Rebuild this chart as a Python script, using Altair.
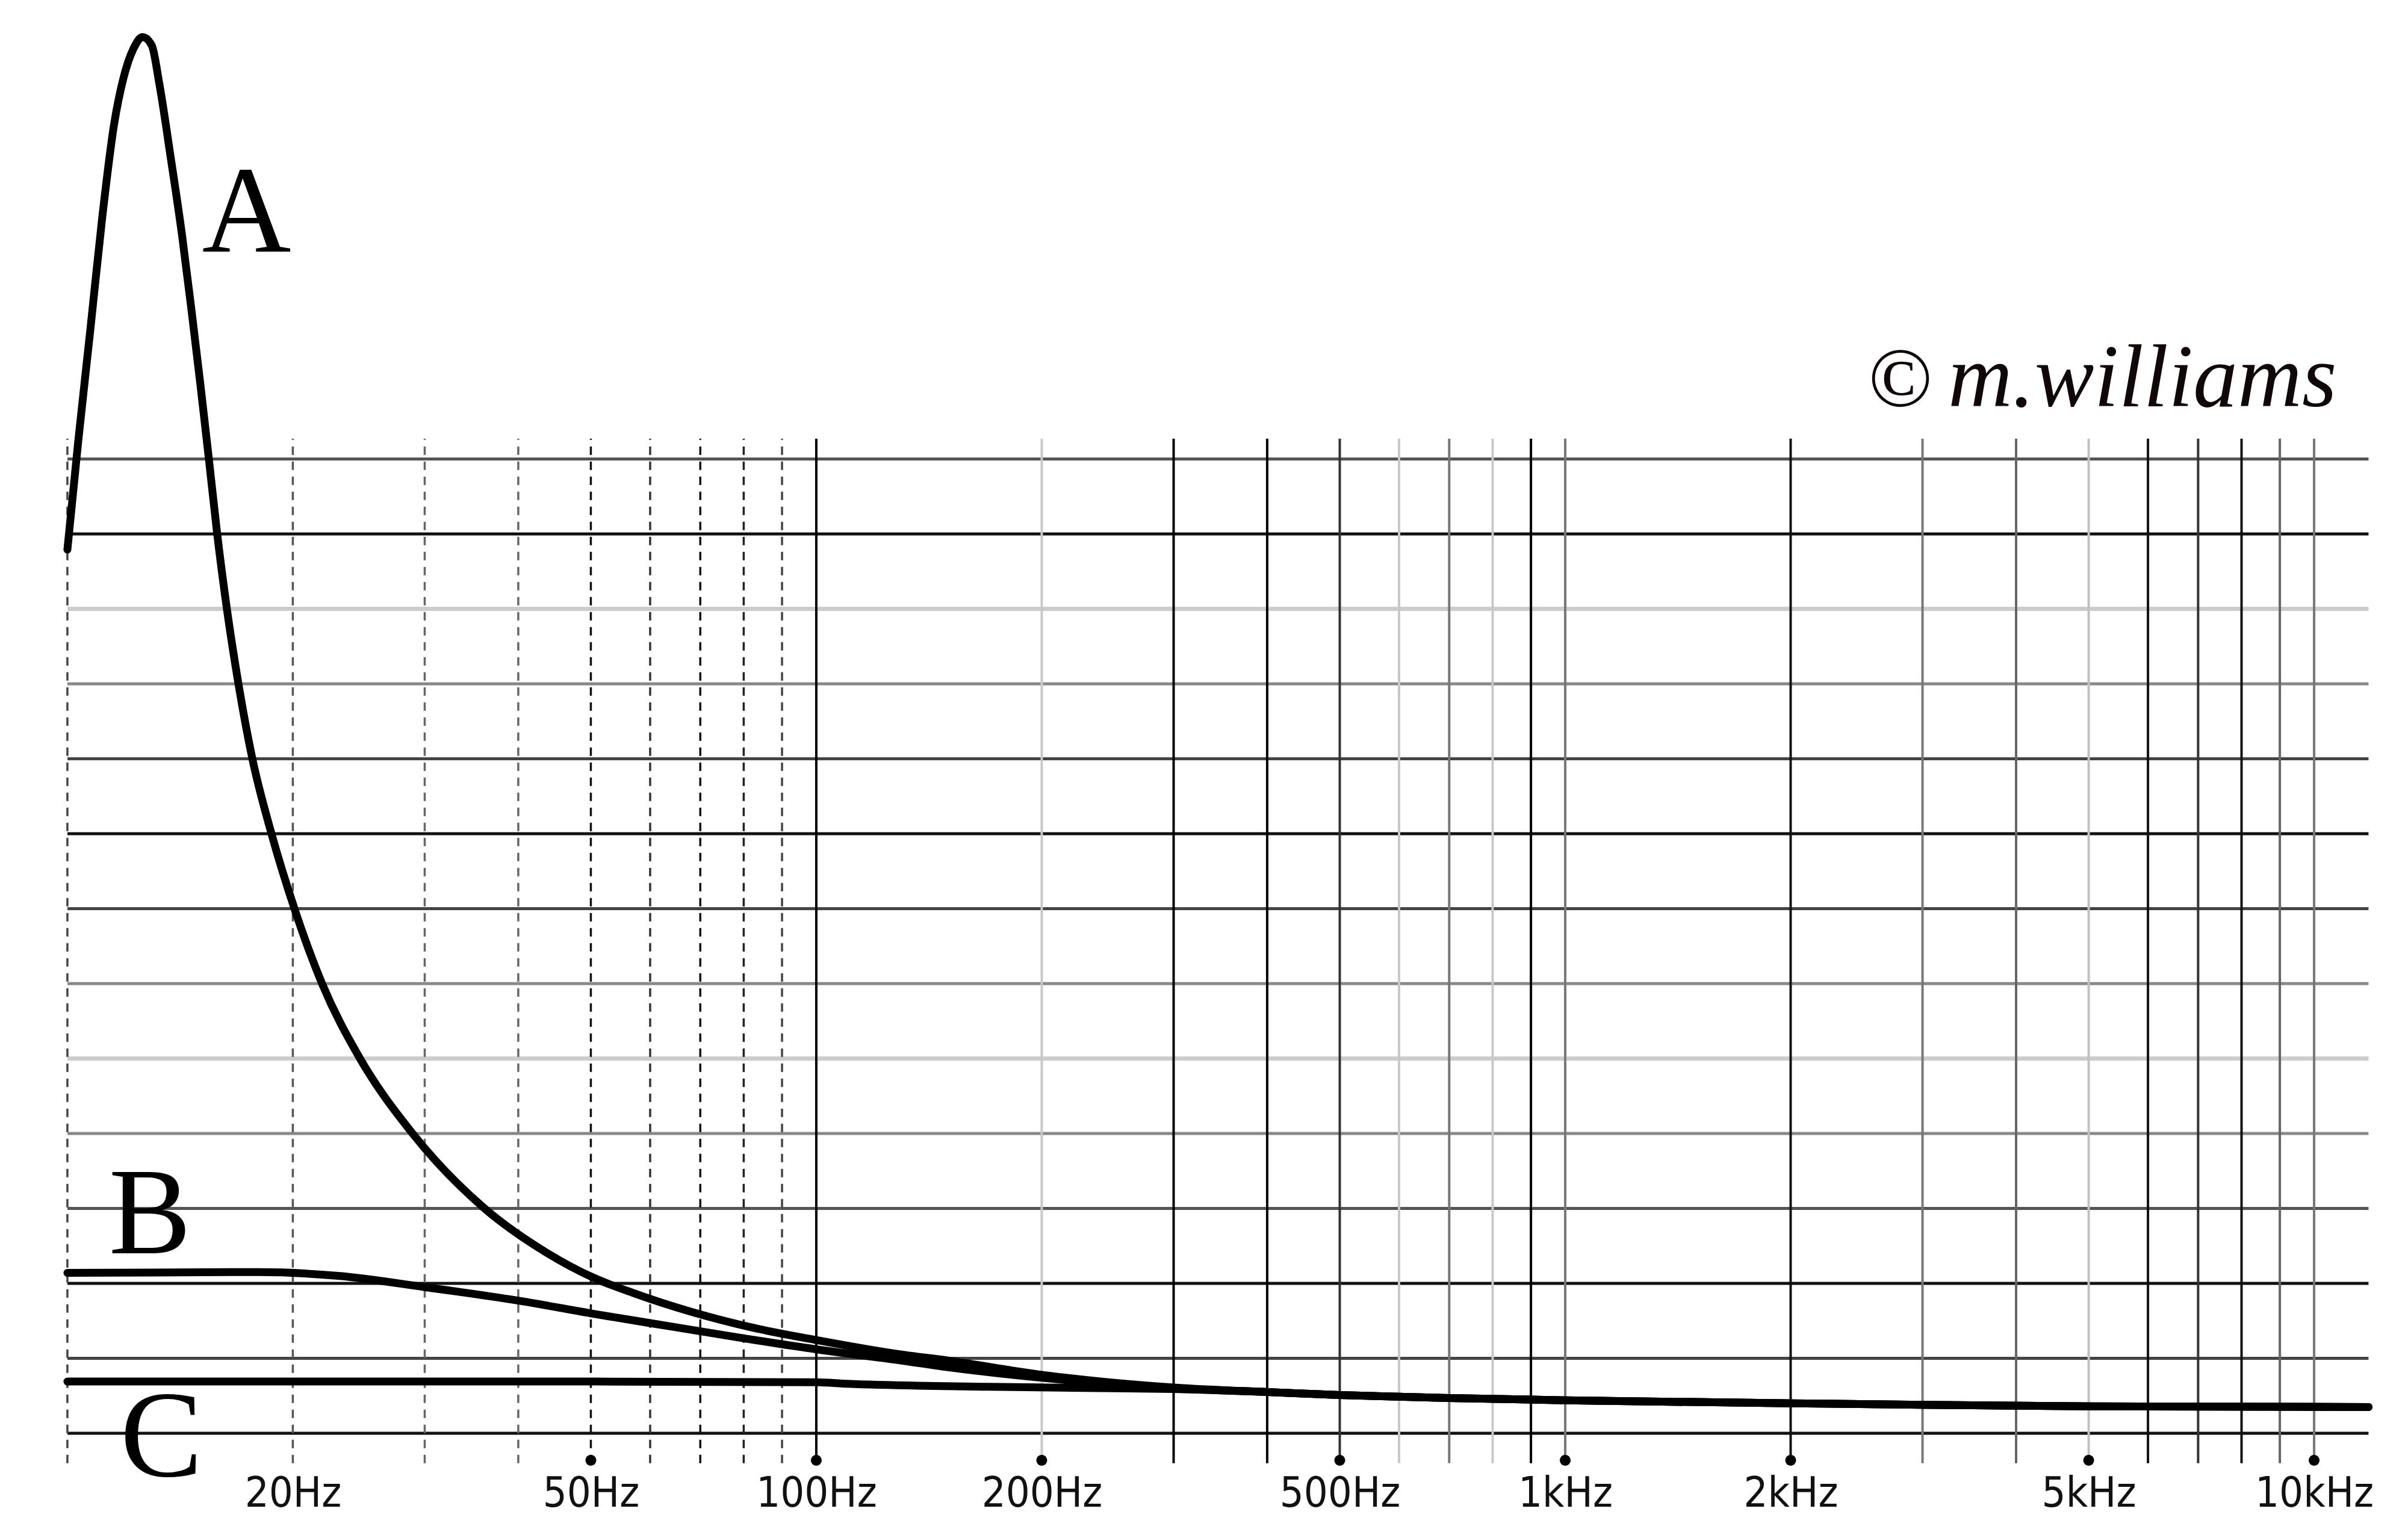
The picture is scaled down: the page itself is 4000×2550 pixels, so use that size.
import altair as alt
import pandas as pd

# ---------------- data ----------------
# x-axis frequency labels
tick_freqs = [20, 50, 100, 200, 500, 1000, 2000, 5000, 10000]
tick_labels = ["20Hz", "50Hz", "100Hz", "200Hz", "500Hz", "1kHz", "2kHz", "5kHz", "10kHz"]
dot_freqs = [50, 100, 200, 500, 1000, 2000, 5000, 10000]

# vertical grid lines
dashed_freqs = [10, 20, 30, 40, 50, 60, 70, 80, 90]
dashed_colors = ["#444444", "#555555", "#666666", "#666666", "#111111", "#333333", "#111111", "#222222", "#444444"]
solid_freqs = [100, 200, 300, 400, 500, 600, 700, 800, 900, 1000,
               2000, 3000, 4000, 5000, 6000, 7000, 8000, 9000, 10000]
solid_colors = ["#000000", "#c8c8c8", "#000000", "#000000", "#333333", "#c8c8c8", "#777777", "#c8c8c8", "#000000", "#777777",
                "#111111", "#777777", "#666666", "#c0c0c0", "#111111", "#333333", "#111111", "#666666", "#777777"]

# horizontal grid lines (level units, bottom line = 0)
h_levels = [0, 1, 2, 3, 4, 5, 6, 7, 8, 9, 10, 11, 12, 13]
h_colors = ["#111111", "#444444", "#111111", "#555555", "#888888", "#cccccc", "#888888",
            "#444444", "#111111", "#444444", "#888888", "#cccccc", "#111111", "#555555"]

grid_left, grid_right = 10, 11820
grid_bottom, grid_top = -0.4, 13.27
dot_level = -0.36

# curves
a_freq = [10.0, 10.34, 10.73, 11.13, 11.55, 11.88, 12.26, 12.60, 12.96,
          13.27, 13.75, 14.22, 14.64, 15.05, 15.45, 15.85, 16.33, 16.92, 17.66, 18.73,
          20.10, 21.88, 24.59, 28.9, 36.06, 43.8, 50.3,
          57.0, 68.1, 81.3, 100.5, 130, 150, 200, 300, 400, 500, 700, 1000, 2000, 3000, 5000, 11820]
a_level = [11.79, 13.24, 14.72, 16.22, 17.48, 18.08, 18.48, 18.63, 18.52,
           18.0, 17.0, 16.0, 15.0, 14.0, 13.0, 12.0, 11.0, 10.0, 9.0, 8.0,
           7.0, 6.0, 5.0, 4.0, 3.0, 2.40, 2.08,
           1.87, 1.62, 1.42, 1.24, 1.05, 0.97, 0.78, 0.61, 0.55, 0.51, 0.47, 0.44, 0.40, 0.38, 0.36, 0.35]

b_freq = [10, 18, 23, 30, 40, 50, 60, 78.5, 100, 130, 150, 200, 300, 400, 500, 700, 1000, 2000, 3000, 5000, 11820]
b_level = [2.14, 2.15, 2.10, 1.95, 1.77, 1.60, 1.47, 1.28, 1.12, 0.97, 0.88, 0.74, 0.60, 0.55, 0.51, 0.47, 0.44, 0.40, 0.38, 0.36, 0.35]

c_freq = [10, 50, 100, 110, 170, 250, 300, 400, 500, 700, 1000, 2000, 3000, 5000, 11820]
c_level = [0.69, 0.69, 0.68, 0.66, 0.62, 0.60, 0.59, 0.55, 0.51, 0.47, 0.44, 0.40, 0.38, 0.36, 0.35]

# annotations
letter_text = ["A", "B", "C"]
letter_freq = [17.35, 12.89, 13.35]
letter_level = [15.77, 2.40, -0.57]

copy_sym, copy_sym_freq, copy_sym_level = "\u00a9", 3093, 13.70
copy_name, copy_name_freq, copy_name_level = "m.williams", 3245, 13.70

# ---------------- chart ----------------
xscale = alt.Scale(type="log", domain=[8.25, 13150], nice=False)
yscale = alt.Scale(domain=[-0.474, 19.06], nice=False, zero=False)

label_expr = " : ".join(f"datum.value == {f} ? '{l}'" for f, l in zip(tick_freqs, tick_labels)) + " : ''"
xaxis = alt.Axis(values=tick_freqs, labelExpr=label_expr, title=None, grid=False, domain=False,
                 ticks=False, labelPadding=62, labelBaseline="alphabetic", labelFontSize=70,
                 labelFont="Liberation Sans Narrow, DejaVu Sans Condensed, Roboto Condensed, Arial Narrow, sans-serif",
                 labelColor="#111111", labelOverlap=False, labelFlush=False, labelLimit=0)

X = alt.X("freq:Q", scale=xscale, axis=xaxis)
Y = alt.Y("level:Q", scale=yscale, axis=None)

vd = pd.DataFrame({"freq": dashed_freqs, "color": dashed_colors,
                   "level": [grid_bottom] * len(dashed_freqs), "level2": [grid_top] * len(dashed_freqs)})
vs = pd.DataFrame({"freq": solid_freqs, "color": solid_colors,
                   "level": [grid_bottom] * len(solid_freqs), "level2": [grid_top] * len(solid_freqs)})
hd = pd.DataFrame({"level": h_levels, "color": h_colors,
                   "freq": [grid_left] * len(h_levels), "freq2": [grid_right] * len(h_levels),
                   "w": [7 if c == "#cccccc" else 5 for c in h_colors]})
dots = pd.DataFrame({"freq": dot_freqs, "level": [dot_level] * len(dot_freqs)})

curves = pd.concat([
    pd.DataFrame({"freq": a_freq, "level": a_level, "series": "A"}),
    pd.DataFrame({"freq": b_freq, "level": b_level, "series": "B"}),
    pd.DataFrame({"freq": c_freq, "level": c_level, "series": "C"}),
])
letters = pd.DataFrame({"freq": letter_freq, "level": letter_level, "label": letter_text})
csym = pd.DataFrame({"freq": [copy_sym_freq], "level": [copy_sym_level], "label": [copy_sym]})
cname = pd.DataFrame({"freq": [copy_name_freq], "level": [copy_name_level], "label": [copy_name]})

h_layer = alt.Chart(hd).mark_rule().encode(
    x=X, x2="freq2:Q", y=Y,
    color=alt.Color("color:N", scale=None, legend=None),
    strokeWidth=alt.StrokeWidth("w:Q", scale=None, legend=None))

vd_layer = alt.Chart(vd).mark_rule(strokeWidth=3.5, strokeDash=[14, 11]).encode(
    x=X, y=Y, y2="level2:Q", color=alt.Color("color:N", scale=None, legend=None))

vs_layer = alt.Chart(vs).mark_rule(strokeWidth=4).encode(
    x=X, y=Y, y2="level2:Q", color=alt.Color("color:N", scale=None, legend=None))

dot_layer = alt.Chart(dots).mark_point(filled=True, shape="circle", size=330, color="#000000", opacity=1).encode(x=X, y=Y)

curve_layer = alt.Chart(curves).mark_line(strokeWidth=13, color="#000000", interpolate="monotone",
                                          strokeCap="round", strokeJoin="round").encode(
    x=X, y=Y, detail="series:N")

letter_layer = alt.Chart(letters).mark_text(font="Liberation Serif", fontSize=205, align="center",
                                            baseline="alphabetic", color="#000000").encode(x=X, y=Y, text="label:N")

csym_layer = alt.Chart(csym).mark_text(font="Liberation Serif", fontSize=140, align="right",
                                       baseline="alphabetic", color="#100808").encode(x=X, y=Y, text="label:N")
cname_layer = alt.Chart(cname).mark_text(font="Liberation Serif", fontSize=148, fontStyle="italic", align="left",
                                         baseline="alphabetic", color="#100808").encode(x=X, y=Y, text="label:N")

chart = alt.layer(h_layer, vd_layer, vs_layer, dot_layer, curve_layer, letter_layer, csym_layer, cname_layer).properties(
    width=3984, height=2432, padding={"left": 0, "top": 0, "right": 0, "bottom": 60}, background="white"
).configure_view(stroke=None)

chart.save("out.html", embed_options={"renderer": "svg", "actions": False})
